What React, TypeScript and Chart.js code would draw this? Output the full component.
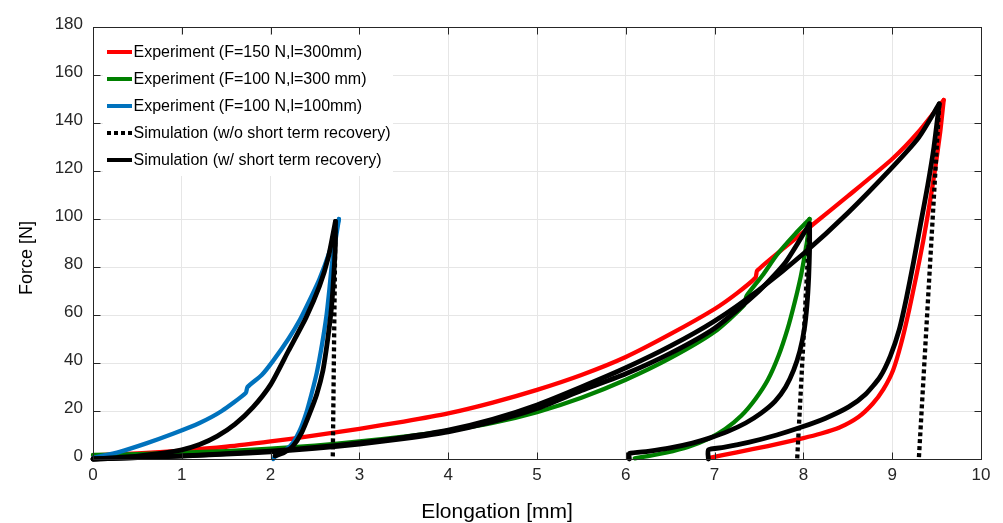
import React, { useEffect, useRef } from "react";
import { Chart, registerables } from "chart.js";

Chart.register(...registerables);

type Pt = [number, number];

// ---------- axes ----------
const xTickValues = [0, 1, 2, 3, 4, 5, 6, 7, 8, 9, 10];
const yTickValues = [0, 20, 40, 60, 80, 100, 120, 140, 160, 180];
const xAxisTitle = "Elongation [mm]";
const yAxisTitle = "Force [N]";

// ---------- series ----------
const seriesNames = [
  "Experiment (F=150 N,l=300mm)",
  "Experiment (F=100 N,l=300 mm)",
  "Experiment (F=100 N,l=100mm)",
  "Simulation (w/o short term recovery)",
  "Simulation (w/ short term recovery)",
];

// Experiment F=150 N, l=300 mm
const expF150Load: Pt[] = [
  [0, 1.5], [0.5, 2.3], [1, 3.5], [1.5, 5.1], [2, 7.3], [2.5, 9.8], [3, 12.6], [3.5, 15.6],
  [4, 19], [4.5, 23.5], [5, 28.8], [5.5, 35], [6, 42.5], [6.5, 52], [7, 62.5], [7.25, 69],
  [7.46, 75.5], [7.48, 78.5], [7.8, 88.5], [8.1, 97.5], [8.5, 109.5], [9, 125], [9.3, 136.5], [9.58, 149.6],
];
const expF150Unload: Pt[] = [
  [9.58, 149.6], [9.54, 136], [9.48, 120], [9.42, 106], [9.35, 91], [9.27, 76], [9.19, 62],
  [9.1, 48], [9.01, 37], [8.9, 29], [8.78, 23], [8.62, 17.5], [8.4, 13], [8.2, 10.6],
  [8.0, 8.7], [7.6, 5.4], [7.25, 2.8], [6.93, 0.4],
];

// Experiment F=100 N, l=300 mm
const expF100L300Load: Pt[] = [
  [0, 1.7], [0.5, 2.0], [1, 2.6], [1.5, 3.3], [2, 4.3], [2.5, 5.6], [3, 7.3], [3.5, 9.3],
  [4, 11.8], [4.5, 15], [5, 19.5], [5.5, 25.5], [6, 33], [6.5, 42], [7, 53], [7.33, 64],
  [7.36, 68], [7.55, 77], [7.7, 85], [7.9, 93.5], [8.07, 100],
];
const expF100L300Unload: Pt[] = [
  [8.07, 100], [8.05, 93], [8.02, 86], [7.97, 76], [7.9, 65], [7.82, 54], [7.72, 43],
  [7.6, 33], [7.46, 25], [7.3, 18], [7.12, 12.5], [6.93, 8.4], [6.7, 5], [6.45, 2.6],
  [6.25, 1.2], [6.1, 0.3],
];

// Experiment F=100 N, l=100 mm
const expF100L100Load: Pt[] = [
  [0, 0.5], [0.3, 3], [0.6, 6.5], [0.9, 10.5], [1.2, 15], [1.45, 20], [1.72, 27.5], [1.74, 30],
  [1.9, 35], [2.03, 41], [2.2, 50], [2.33, 58], [2.45, 67], [2.55, 75], [2.66, 86], [2.77, 100],
];
const expF100L100Unload: Pt[] = [
  [2.77, 100], [2.73, 91], [2.69, 81], [2.66, 70], [2.63, 60], [2.58, 48], [2.52, 36],
  [2.46, 27], [2.4, 19], [2.33, 12], [2.25, 6.7], [2.17, 3.8], [2.1, 2.2], [2.05, 1], [2.03, 0],
];

// Simulation without short term recovery (unloading drops)
const simNoRecSmall: Pt[] = [[2.73, 99], [2.7, 0]];
const simNoRec100: Pt[] = [[8.07, 98], [7.93, 0]];
const simNoRec150: Pt[] = [[9.53, 148], [9.3, 0]];

// Simulation with short term recovery
const simRecSmallLoad: Pt[] = [
  [0, 0], [0.5, 1.2], [0.8, 2.5], [1, 3.8], [1.2, 6], [1.4, 9.5], [1.6, 14.5], [1.8, 21.5],
  [2, 31], [2.2, 45], [2.4, 59], [2.55, 72], [2.65, 84], [2.73, 99],
];
const simRecSmallUnload: Pt[] = [
  [2.73, 99], [2.73, 90], [2.72, 82], [2.7, 70], [2.68, 61], [2.64, 49], [2.59, 37],
  [2.52, 27], [2.44, 19], [2.35, 11], [2.25, 5.3], [2.15, 2.6], [2.05, 1.3],
];
const simRec100Load: Pt[] = [
  [0, 0], [0.5, 0.6], [1, 1.2], [1.5, 2], [2, 3], [2.5, 4.4], [3, 6.2], [3.5, 8.5],
  [4, 11.3], [4.5, 15.5], [5, 21], [5.5, 28.5], [6, 35.5], [6.5, 44], [7, 54.5],
  [7.5, 70], [7.8, 82], [8.07, 98],
];
const simRec100Unload: Pt[] = [
  [8.07, 98], [8.07, 88], [8.06, 76], [8.04, 64], [8.01, 54], [7.96, 45], [7.89, 37],
  [7.8, 30], [7.68, 24], [7.52, 19], [7.35, 15], [7.15, 11.5], [6.95, 8.8], [6.75, 6.6],
  [6.5, 4.6], [6.25, 3.2], [6.04, 2.3], [6.04, 0],
];
const simRec150Load: Pt[] = [
  [0, 0], [0.5, 0.6], [1, 1.3], [1.5, 2.2], [2, 3.3], [2.5, 4.8], [3, 6.7], [3.5, 9],
  [4, 12], [4.5, 16.5], [5, 22.5], [5.5, 30], [6, 38], [6.5, 47], [7, 57.5], [7.5, 70.5],
  [8, 85.5], [8.5, 102.5], [9, 121.5], [9.3, 134], [9.53, 148],
];
const simRec150Unload: Pt[] = [
  [9.53, 148], [9.47, 130], [9.4, 114], [9.32, 98], [9.24, 82], [9.16, 67], [9.08, 54],
  [8.98, 43], [8.86, 34], [8.7, 27], [8.51, 21.7], [8.25, 17], [7.98, 13.3], [7.7, 10],
  [7.38, 6.9], [7.1, 4.8], [6.93, 3.8], [6.93, 0],
];

// curve -> series index
const curves: { pts: Pt[]; series: number }[] = [
  { pts: expF150Load, series: 0 },
  { pts: expF150Unload, series: 0 },
  { pts: expF100L300Load, series: 1 },
  { pts: expF100L300Unload, series: 1 },
  { pts: expF100L100Load, series: 2 },
  { pts: expF100L100Unload, series: 2 },
  { pts: simNoRecSmall, series: 3 },
  { pts: simNoRec100, series: 3 },
  { pts: simNoRec150, series: 3 },
  { pts: simRecSmallLoad, series: 4 },
  { pts: simRecSmallUnload, series: 4 },
  { pts: simRec100Load, series: 4 },
  { pts: simRec100Unload, series: 4 },
  { pts: simRec150Load, series: 4 },
  { pts: simRec150Unload, series: 4 },
];

// ---------- styles ----------
const FONT = "'Liberation Sans', Arial, Helvetica, sans-serif";
const AXIS_COLOR = "#262626";
const seriesColors = ["#ff0000", "#008000", "#0072bd", "#000000", "#000000"];
const seriesWidths = [4.3, 4.3, 4.3, 4.3, 4.8];
const seriesDash: number[][] = [[], [], [], [4, 3], []];
const seriesOrder = [4, 3, 2, 1, 0];

const decorPlugin = {
  id: "matlabDecor",
  beforeDatasetsDraw(chart: any) {
    const ctx = chart.ctx as CanvasRenderingContext2D;
    ctx.save();
    ctx.fillStyle = "#ffffff";
    ctx.fillRect(103, 35, 290, 141);
    ctx.restore();
  },
  afterDraw(chart: any) {
    const ctx = chart.ctx as CanvasRenderingContext2D;
    const sx = chart.scales.x;
    const sy = chart.scales.y;
    const L = Math.round(sx.getPixelForValue(0)) + 0.5;
    const R = Math.round(sx.getPixelForValue(10)) + 0.5;
    const T = Math.round(sy.getPixelForValue(180)) + 0.5;
    const B = Math.round(sy.getPixelForValue(0)) + 0.5;
    ctx.save();
    // frame
    ctx.strokeStyle = AXIS_COLOR;
    ctx.lineWidth = 1;
    ctx.setLineDash([]);
    ctx.strokeRect(L, T, R - L, B - T);
    // inward tick marks on all four sides
    const TL = 7;
    ctx.beginPath();
    xTickValues.forEach((v) => {
      const p = Math.round(sx.getPixelForValue(v)) + 0.5;
      ctx.moveTo(p, B);
      ctx.lineTo(p, B - TL);
      ctx.moveTo(p, T);
      ctx.lineTo(p, T + TL);
    });
    yTickValues.forEach((v) => {
      const p = Math.round(sy.getPixelForValue(v)) + 0.5;
      ctx.moveTo(L, p);
      ctx.lineTo(L + TL, p);
      ctx.moveTo(R, p);
      ctx.lineTo(R - TL, p);
    });
    ctx.stroke();

    // legend
    ctx.font = `16px ${FONT}`;
    ctx.textAlign = "left";
    ctx.textBaseline = "middle";
    seriesNames.forEach((name, i) => {
      const y = 52 + i * 27;
      ctx.strokeStyle = seriesColors[i];
      ctx.lineWidth = 4;
      ctx.lineCap = "butt";
      ctx.setLineDash(seriesDash[i]);
      ctx.beginPath();
      ctx.moveTo(107, y);
      ctx.lineTo(132, y);
      ctx.stroke();
      ctx.setLineDash([]);
      ctx.fillStyle = "#000000";
      ctx.fillText(name, 133.5, y + 1);
    });

    // axis titles
    ctx.fillStyle = "#000000";
    ctx.font = `21px ${FONT}`;
    ctx.textAlign = "center";
    ctx.textBaseline = "alphabetic";
    ctx.fillText(xAxisTitle, 497, 518);

    ctx.translate(31.5, 258);
    ctx.rotate(-Math.PI / 2);
    ctx.font = `18px ${FONT}`;
    ctx.textAlign = "center";
    ctx.textBaseline = "alphabetic";
    ctx.fillText(yAxisTitle, 0, 0);
    ctx.restore();
  },
};

export default function App() {
  const canvasRef = useRef<HTMLCanvasElement | null>(null);

  useEffect(() => {
    const canvas = canvasRef.current;
    if (!canvas) return;
    const datasets = curves.map((c) => {
      const s = c.series;
      const dashed = seriesDash[s].length > 0;
      return {
        label: seriesNames[s],
        data: c.pts.map(([x, y]) => ({ x, y })),
        borderColor: seriesColors[s],
        backgroundColor: seriesColors[s],
        borderWidth: seriesWidths[s],
        borderDash: seriesDash[s],
        borderCapStyle: dashed ? "butt" : "round",
        borderJoinStyle: "round",
        pointRadius: 0,
        pointHoverRadius: 0,
        tension: dashed ? 0 : 0.2,
        fill: false,
        clip: false,
        order: seriesOrder[s],
      };
    });

    const chart = new Chart(canvas, {
      type: "line",
      data: { datasets: datasets as any },
      options: {
        animation: false,
        responsive: false,
        events: [],
        layout: { autoPadding: false, padding: { left: 0, top: 27, right: 22, bottom: 0 } },
        plugins: {
          legend: { display: false },
          tooltip: { enabled: false },
          title: { display: false },
        },
        scales: {
          x: {
            type: "linear",
            min: 0,
            max: 10,
            afterBuildTicks: (s: any) => {
              s.ticks = xTickValues.map((v) => ({ value: v }));
            },
            afterFit: (s: any) => {
              s.height = 64;
            },
            ticks: {
              font: { family: FONT, size: 17 },
              color: AXIS_COLOR,
              padding: 6,
              maxRotation: 0,
              autoSkip: false,
            },
            grid: { color: "#e6e6e6", lineWidth: 1, drawTicks: false },
            border: { display: false },
          },
          y: {
            type: "linear",
            min: 0,
            max: 180,
            afterBuildTicks: (s: any) => {
              s.ticks = yTickValues.map((v) => ({ value: v }));
            },
            afterFit: (s: any) => {
              s.width = 93;
            },
            ticks: {
              font: { family: FONT, size: 17 },
              color: AXIS_COLOR,
              padding: 10,
              labelOffset: -3,
              autoSkip: false,
            },
            grid: { color: "#e6e6e6", lineWidth: 1, drawTicks: false },
            border: { display: false },
          },
        },
      } as any,
      plugins: [decorPlugin],
    });
    return () => chart.destroy();
  }, []);

  return (
    <div
      style={{
        position: "absolute",
        left: 0,
        top: 0,
        width: 1003,
        height: 523,
        background: "#ffffff",
      }}
    >
      <canvas ref={canvasRef} width={1003} height={523} style={{ display: "block" }} />
    </div>
  );
}
